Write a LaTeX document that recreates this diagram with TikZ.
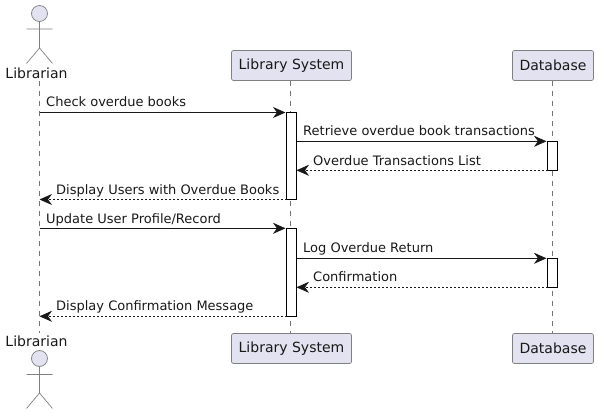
\documentclass[tikz,border=0pt]{standalone}
\usepackage{fontspec}
\setmainfont{DejaVu Sans}
\usetikzlibrary{arrows.meta}
\definecolor{partfill}{HTML}{E2E2F0}
\definecolor{inkdark}{HTML}{181818}
\tikzset{
  partbox/.style={draw=inkdark!55,line width=0.7pt,fill=partfill,rounded corners=2pt,minimum height=30pt,inner sep=0pt,text=inkdark,font=\fontsize{14}{16}\selectfont},
  actorname/.style={inner sep=0pt,text=inkdark,font=\fontsize{14}{16}\selectfont},
  actorline/.style={draw=inkdark!55,line width=0.7pt},
  actorhead/.style={actorline,fill=partfill},
  lifeline/.style={draw=inkdark!60,line width=0.5pt,dash pattern=on 5pt off 5pt},
  activation/.style={draw=black,line width=0.9pt,fill=white,minimum width=10pt,inner sep=0pt,outer sep=0pt},
  msgsolid/.style={draw=inkdark,line width=0.8pt,-{Stealth[length=12.5pt,width=11pt,inset=4pt]}},
  msgdash/.style={msgsolid,dash pattern=on 2pt off 2pt,line width=0.7pt},
  msglabel/.style={anchor=base west,inner sep=0pt,text=inkdark,font=\fontsize{13}{15}\selectfont}
}
\begin{document}
\begin{tikzpicture}[x=1pt,y=-1pt]
\useasboundingbox (0,0) rectangle (598,414);
% participants
\node[partbox,minimum width=120pt] (sysT) at (291.5,65.5) {Library System};
\node[partbox,minimum width=81pt] (dbT) at (553,65.5) {Database};
\node[partbox,minimum width=120pt] (sysB) at (291.5,348.5) {Library System};
\node[partbox,minimum width=81pt] (dbB) at (553,348.5) {Database};
\node[actorname] (libT) at (36.5,73.5) {Librarian};
\node[actorname] (libB) at (36.5,341.5) {Librarian};
\coordinate (libTop) at (39.5,81);
\coordinate (libBot) at (39.5,333);
\coordinate (sysTop) at (290.5,81);
\coordinate (sysBot) at (290.5,333);
\coordinate (dbTop) at (552.5,81);
\coordinate (dbBot) at (552.5,333);
% lifelines
\draw[lifeline] (libTop) -- (libBot);
\draw[lifeline] (sysTop) -- (sysBot);
\draw[lifeline] (dbTop) -- (dbBot);
% actors
\draw[actorhead] (39.5,13.5) circle (8);
\draw[actorline] (39.5,21.5) -- (39.5,48) (26.5,29) -- (52.5,29) (26.5,63.5) -- (39.5,48) -- (52.5,63.5);
\draw[actorhead] (39.5,358.5) circle (8);
\draw[actorline] (39.5,366.5) -- (39.5,393) (26.5,374.5) -- (52.5,374.5) (26.5,408.5) -- (39.5,393) -- (52.5,408.5);
% activations
\node[activation,minimum height=87pt] (a1) at (291.5,156) {};
\node[activation,minimum height=88pt] (a2) at (291.5,272.3) {};
\node[activation,minimum height=29pt] (d1) at (552.5,155.8) {};
\node[activation,minimum height=29pt] (d2) at (552.5,272.8) {};
% messages
\coordinate (m1) at (libTop |- a1.north);
\coordinate (m4) at (libTop |- a1.south);
\coordinate (m5) at (libTop |- a2.north);
\coordinate (m8) at (libTop |- a2.south);
\draw[msgsolid] (m1) -- ([xshift=-1pt]a1.north west);
\draw[msgsolid] (a1.east |- d1.north) -- ([xshift=-1pt]d1.north west);
\draw[msgdash] (d1.south west) -- (a1.east |- d1.south);
\draw[msgdash] (a1.south west) -- (m4);
\draw[msgsolid] (m5) -- ([xshift=-1pt]a2.north west);
\draw[msgsolid] (a2.east |- d2.north) -- ([xshift=-1pt]d2.north west);
\draw[msgdash] (d2.south west) -- (a2.east |- d2.south);
\draw[msgdash] (a2.south west) -- (m8);
% labels
\node[msglabel] (t1) at (46,107) {Check overdue books};
\node[msglabel] (t2) at (303,136) {Retrieve overdue book transactions};
\node[msglabel] (t3) at (313,166) {Overdue Transactions List};
\node[msglabel] (t4) at (56,195) {Display Users with Overdue Books};
\node[msglabel] (t5) at (46,224) {Update User Profile/Record};
\node[msglabel] (t6) at (303,253) {Log Overdue Return};
\node[msglabel] (t7) at (313,282) {Confirmation};
\node[msglabel] (t8) at (56,311) {Display Confirmation Message};
\end{tikzpicture}
\end{document}
